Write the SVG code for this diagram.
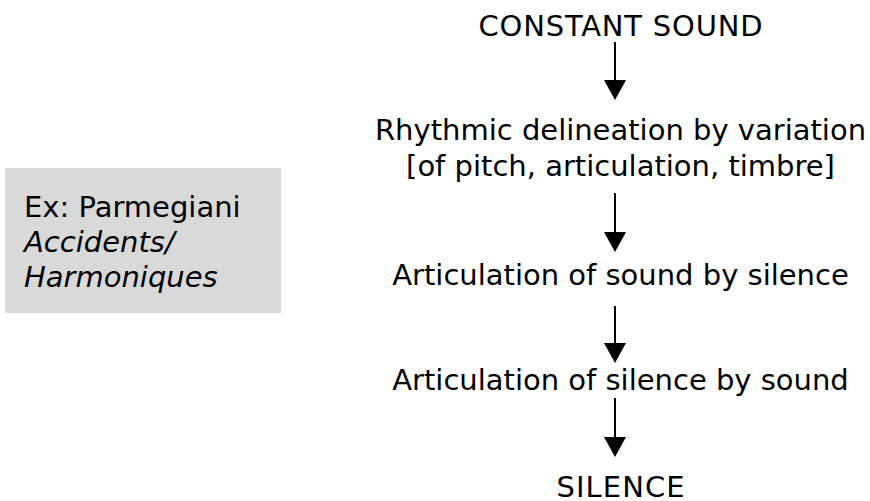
<svg xmlns="http://www.w3.org/2000/svg" width="870" height="501" viewBox="0 0 870 501">
  <style>
    .lbl { font-family: "DejaVu Sans", Verdana, sans-serif; font-size: 29px; fill: #000; text-anchor: middle; }
    .note { font-family: "DejaVu Sans", Verdana, sans-serif; font-size: 29px; fill: #000; }
    .it { font-style: italic; }
    .shaft { stroke: #000; stroke-width: 2; }
    .tip { fill: #000; }
  </style>
  <rect width="870" height="501" fill="#fff"/>

  <g id="example">
    <rect x="5" y="168" width="276" height="145" fill="#d9d9d9"/>
    <text class="note" x="24" y="217">Ex: Parmegiani</text>
    <text class="note it" x="24" y="252">Accidents/</text>
    <text class="note it" x="24" y="287">Harmoniques</text>
  </g>

  <g id="constant-sound">
    <text class="lbl" x="620.5" y="36" textLength="284">CONSTANT SOUND</text>
  </g>
  <g id="rhythmic-delineation">
    <text class="lbl" x="620.5" y="140">Rhythmic delineation by variation</text>
    <text class="lbl" x="620.5" y="176">[of pitch, articulation, timbre]</text>
  </g>
  <g id="sound-by-silence">
    <text class="lbl" x="620.5" y="285">Articulation of sound by silence</text>
  </g>
  <g id="silence-by-sound">
    <text class="lbl" x="620.5" y="390">Articulation of silence by sound</text>
  </g>
  <g id="silence">
    <text class="lbl" x="620.5" y="497" textLength="128">SILENCE</text>
  </g>

  <g id="connectors">
    <line class="shaft" x1="615" y1="42" x2="615" y2="82"/>
    <path class="tip" d="M604,80 L626,80 L615,100 Z"/>
    <line class="shaft" x1="615" y1="193" x2="615" y2="234"/>
    <path class="tip" d="M604,232 L626,232 L615,252 Z"/>
    <line class="shaft" x1="615" y1="306" x2="615" y2="345"/>
    <path class="tip" d="M604,343 L626,343 L615,363 Z"/>
    <line class="shaft" x1="615" y1="398" x2="615" y2="439"/>
    <path class="tip" d="M604,437 L626,437 L615,457 Z"/>
  </g>
</svg>
